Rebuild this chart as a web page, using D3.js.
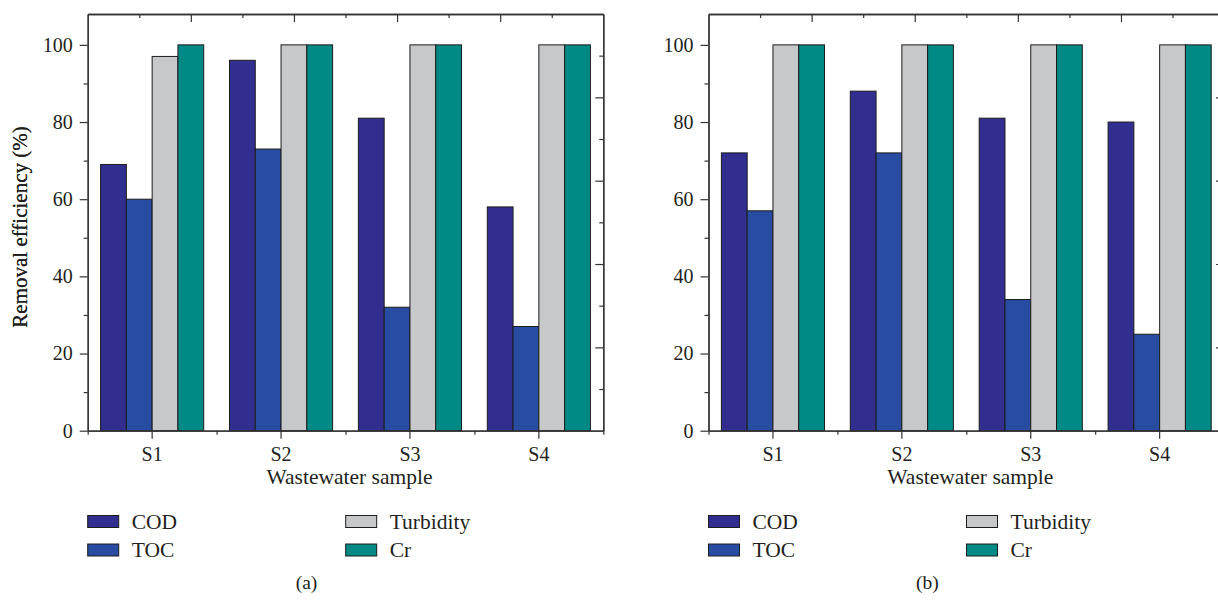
<!DOCTYPE html>
<html>
<head>
<meta charset="utf-8">
<script src="https://cdn.jsdelivr.net/npm/d3@7"></script>
<style>
  html, body { margin: 0; padding: 0; background: #fff; }
  svg { display: block; }
  text { font-family: "Liberation Serif", "Times New Roman", serif; fill: #231f20; }
</style>
</head>
<body>
<svg id="chart" width="1218" height="600"></svg>
<script>
// Wastewater samples and measured parameters
const samples = ["S1", "S2", "S3", "S4"];
const seriesNames = ["COD", "TOC", "Turbidity", "Cr"];
const seriesColors = ["#312e8f", "#274ca1", "#c7c8ca", "#008a86"];

// Panel (a) removal efficiencies (%)
const codA = [69, 96, 81, 58];
const tocA = [60, 73, 32, 27];
const turbidityA = [97, 100, 100, 100];
const crA = [100, 100, 100, 100];

// Panel (b) removal efficiencies (%)
const codB = [72, 88, 81, 80];
const tocB = [57, 72, 34, 25];
const turbidityB = [100, 100, 100, 100];
const crB = [100, 100, 100, 100];

const yTicks = [0, 20, 40, 60, 80, 100];
const yMinorTicks = [10, 30, 50, 70, 90];
const yMax = 108;

const svg = d3.select("#chart");

const W = 515.6, H = 416.7;
const panels = [
  { left: 87.7, label: "(a)", series: [codA, tocA, turbidityA, crA] },
  { left: 708.5, label: "(b)", series: [codB, tocB, turbidityB, crB] }
];

function drawPanel(p) {
  const g = svg.append("g").attr("transform", `translate(${p.left},14)`);

  const x0 = d3.scaleBand().domain(samples).range([0, W]).paddingInner(0).paddingOuter(0);
  const x1 = d3.scaleBand().domain(seriesNames).range([0, x0.bandwidth()]).paddingInner(0).paddingOuter(0.5);
  const y = d3.scaleLinear().domain([0, yMax]).range([H, 0]);

  // Bars
  const rows = samples.map((s, i) => ({
    sample: s,
    values: seriesNames.map((n, k) => ({ name: n, value: p.series[k][i], color: seriesColors[k] }))
  }));
  g.selectAll("g.grp").data(rows).join("g")
    .attr("class", "grp")
    .attr("transform", d => `translate(${x0(d.sample)},0)`)
    .selectAll("rect").data(d => d.values).join("rect")
    .attr("x", d => x1(d.name))
    .attr("y", d => y(d.value))
    .attr("width", x1.bandwidth())
    .attr("height", d => H - y(d.value))
    .attr("fill", d => d.color)
    .attr("stroke", "#1c1c1c")
    .attr("stroke-width", 1);

  const styleAxis = sel => {
    sel.select(".domain").attr("stroke", "#333").attr("stroke-width", 1.3);
    sel.selectAll(".tick line").attr("stroke", "#333").attr("stroke-width", 1.2);
    sel.selectAll("text").style("font-size", "20px").attr("fill", "#231f20")
      .style("font-family", '"Liberation Serif", serif');
  };

  // Left axis with labelled major ticks and short minor ticks
  g.append("g").call(d3.axisLeft(y).tickValues(yTicks).tickSize(8).tickPadding(7).tickSizeOuter(0)).call(styleAxis);
  g.append("g").call(d3.axisLeft(y).tickValues(yMinorTicks).tickSize(4).tickFormat("").tickSizeOuter(0)).call(styleAxis);

  // Bottom axis: sample labels at band centres, short ticks at band edges
  g.append("g").attr("transform", `translate(0,${H})`)
    .call(d3.axisBottom(x0).tickSize(8).tickPadding(8.5).tickSizeOuter(0)).call(styleAxis);
  const edge = d3.scaleLinear().domain([0, samples.length]).range([0, W]);
  g.append("g").attr("transform", `translate(0,${H})`)
    .call(d3.axisBottom(edge).tickValues(d3.range(0, samples.length + 1)).tickSize(4).tickFormat("").tickSizeOuter(0))
    .call(styleAxis);

  // Top and right frame axes with inward ticks
  const fx = d3.scaleLinear().domain([0, 10]).range([0, W]);
  const fy = d3.scaleLinear().domain([0, 10]).range([H, 0]);
  const even = d3.range(2, 10, 2), odd = d3.range(1, 10, 2);
  g.append("g").call(d3.axisBottom(fx).tickValues(even).tickSize(8).tickFormat("").tickSizeOuter(0)).call(styleAxis);
  g.append("g").call(d3.axisBottom(fx).tickValues(odd).tickSize(4).tickFormat("").tickSizeOuter(0)).call(styleAxis);
  g.append("g").attr("transform", `translate(${W},0)`)
    .call(d3.axisLeft(fy).tickValues(even).tickSize(8).tickFormat("").tickSizeOuter(0)).call(styleAxis);
  g.append("g").attr("transform", `translate(${W},0)`)
    .call(d3.axisLeft(fy).tickValues(odd).tickSize(4).tickFormat("").tickSizeOuter(0)).call(styleAxis);

  // Axis titles
  g.append("text")
    .attr("x", W / 2 + 4).attr("y", 470)
    .attr("text-anchor", "middle")
    .style("font-size", "21.5px")
    .text("Wastewater sample");
  g.append("text")
    .attr("transform", `translate(${27 - p.left},${213}) rotate(-90)`)
    .attr("text-anchor", "middle")
    .style("font-size", "21px")
    .text("Removal efficiency (%)");

  // Legend: two columns of two entries
  const legend = g.append("g").attr("transform", "translate(0,501.5)");
  seriesNames.forEach((n, k) => {
    const col = Math.floor(k / 2), row = k % 2;
    const item = legend.append("g").attr("transform", `translate(${col * 258},${row * 28.5})`);
    item.append("rect")
      .attr("x", 0).attr("y", 0).attr("width", 31).attr("height", 12)
      .attr("fill", seriesColors[k]).attr("stroke", "#1c1c1c").attr("stroke-width", 1);
    item.append("text")
      .attr("x", 44).attr("y", 13)
      .style("font-size", "21.5px")
      .text(n);
  });

  // Panel label
  g.append("text")
    .attr("x", W / 2 - 39).attr("y", 575)
    .attr("text-anchor", "middle")
    .style("font-size", "19.5px")
    .text(p.label);
}

panels.forEach(drawPanel);
</script>
</body>
</html>
